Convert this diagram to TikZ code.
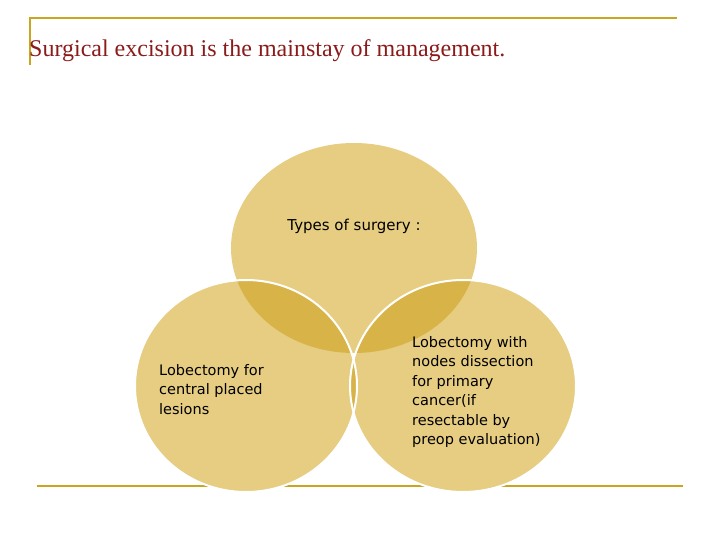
\documentclass[tikz,border=0pt]{standalone}
\usepackage{fontspec}
\setmainfont{Liberation Serif}
\newfontfamily\bodyfont{DejaVu Sans}
\definecolor{goldline}{HTML}{C9A520}
\definecolor{petal}{HTML}{E6CD82}
\definecolor{petaldark}{HTML}{D8B448}
\definecolor{titlered}{HTML}{8B1A1A}
\tikzset{
  petaltext/.style={font=\bodyfont\fontsize{14.5}{19.5}\selectfont, align=left, anchor=north west, inner sep=0pt},
}
\begin{document}
\begin{tikzpicture}[x=1pt,y=-1pt]
				\useasboundingbox (0,0) rectangle (720,540);
				% frame lines
				\draw[goldline, line width=2.5pt] (30,65) -- (30,18) -- (677,18);
				\draw[goldline, line width=2.5pt] (37,486) -- (683,486);
				\node[anchor=west, inner sep=0pt, text=titlered, font=\fontsize{24}{28}\selectfont] (title) at (29,51) {Surgical excision is the mainstay of management.};

				% circles
				\fill[petal] (354,248) ellipse (123 and 105);
				\fill[petal] (246,386) ellipse (111 and 106);
				\fill[petal] (463,386) ellipse (113 and 106);
				% overlaps
				\begin{scope}
					\clip (354,248) ellipse (123 and 105);
					\fill[petaldark] (246,386) ellipse (111 and 106);
					\fill[petaldark] (463,386) ellipse (113 and 106);
				\end{scope}
				\begin{scope}
					\clip (246,386) ellipse (111 and 106);
					\fill[petaldark] (463,386) ellipse (113 and 106);
				\end{scope}
				\draw[white, line width=2pt] (246,386) ellipse (111 and 106);
				\draw[white, line width=2pt] (463,386) ellipse (113 and 106);

				% labels
				\node[font=\bodyfont\fontsize{15}{18}\selectfont] (types) at (354,226) {Types of surgery :};
				\node[petaltext] (central) at (159,364) {Lobectomy for\\central placed\\lesions};
				\node[petaltext] (nodes) at (412,336) {Lobectomy with\\nodes dissection\\for primary\\cancer(if\\resectable by\\preop evaluation)};
\end{tikzpicture}
\end{document}
